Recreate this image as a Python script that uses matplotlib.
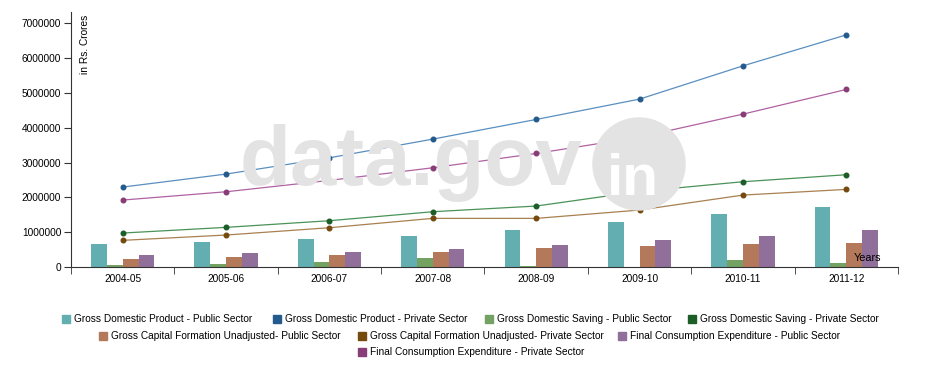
import numpy as np
import matplotlib
matplotlib.use("Agg")
import matplotlib.pyplot as plt
from matplotlib.patches import Rectangle, Ellipse

plt.rcParams['font.family'] = ['Liberation Sans', 'DejaVu Sans']

years = ['2004-05', '2005-06', '2006-07', '2007-08', '2008-09', '2009-10', '2010-11', '2011-12']

# bars (public sector), Rs. crores
gdp_public = [669000, 717000, 803000, 898000, 1061000, 1300000, 1511000, 1721000]
gds_public = [57000, 77000, 153000, 249000, 38000, 0, 210000, 115000]
gcf_public = [230000, 296000, 344000, 440000, 535000, 602000, 650000, 698000]
fce_public = [344000, 392000, 440000, 516000, 621000, 775000, 880000, 1052000]

# lines (private sector)
gdp_private = [2295000, 2668000, 3135000, 3672000, 4236000, 4820000, 5775000, 6665000]
gds_private = [975000, 1138000, 1329000, 1587000, 1750000, 2170000, 2448000, 2649000]
gcf_private = [765000, 918000, 1128000, 1396000, 1396000, 1635000, 2065000, 2228000]
fce_private = [1922000, 2160000, 2487000, 2849000, 3260000, 3729000, 4389000, 5097000]

bar_series = [
    ('Gross Domestic Product - Public Sector', gdp_public, '#62aeb1'),
    ('Gross Domestic Saving - Public Sector', gds_public, '#74a263'),
    ('Gross Capital Formation Unadjusted- Public Sector', gcf_public, '#b4785a'),
    ('Final Consumption Expenditure - Public Sector', fce_public, '#906f9b'),
]
line_series = [
    ('Gross Domestic Product - Private Sector', gdp_private, '#5a8fc0', '#245a8c'),
    ('Gross Domestic Saving - Private Sector', gds_private, '#4a9257', '#1b5e28'),
    ('Gross Capital Formation Unadjusted- Private Sector', gcf_private, '#a98050', '#754a0e'),
    ('Final Consumption Expenditure - Private Sector', fce_private, '#b062a2', '#893d76'),
]

FS = 7.3
fig = plt.figure(figsize=(9.26, 3.78), dpi=100)
ax = fig.add_axes([71 / 926, 1 - 267 / 378, 827 / 926, (267 - 11.7) / 378])

# watermark
fig.text(240 / 926, 1 - 185 / 378, 'data.gov', fontsize=60, fontweight='bold',
         color='#e3e3e3', ha='left', va='baseline', zorder=0)
fig.patches.append(Ellipse((639 / 926, 1 - 164 / 378), 92 / 926, 92 / 378,
                           transform=fig.transFigure, color='#e3e3e3', zorder=0))
fig.text(633 / 926, 1 - 195 / 378, 'in', fontsize=42, fontweight='bold',
         color='white', ha='center', va='baseline', zorder=0)
ax.set_facecolor('none')

x = np.arange(len(years))
bw = 0.153
for i, (name, vals, col) in enumerate(bar_series):
    ax.bar(x + (i - 1.5) * bw, vals, width=bw, color=col, zorder=2)

for name, vals, lc, dc in line_series:
    ax.plot(x, vals, color=lc, lw=0.9, zorder=3)
    ax.plot(x, vals, 'o', color=dc, ms=3.3, zorder=4)

ax.set_xlim(-0.5, len(years) - 0.5)
ax.set_ylim(0, 7.33e6)
ax.set_yticks(np.arange(0, 7000001, 1000000))
ax.set_yticklabels([str(v) for v in range(0, 7000001, 1000000)])
ax.set_xticks(x)
ax.set_xticklabels(years)
ax.set_xticks(np.arange(-0.5, len(years)), minor=True)
ax.tick_params(axis='x', which='major', length=0, pad=5, labelsize=FS)
ax.tick_params(axis='x', which='minor', length=5, color='#333333')
ax.tick_params(axis='y', length=5, labelsize=FS, color='#333333', pad=2)
for s in ['top', 'right']:
    ax.spines[s].set_visible(False)
for s in ['left', 'bottom']:
    ax.spines[s].set_color('#333333')

ax.text(0.011, 0.99, 'in Rs. Crores', transform=ax.transAxes, rotation=90,
        fontsize=FS, ha='left', va='top')
ax.text(0.963, 0.015, 'Years', transform=ax.transAxes, fontsize=FS + 0.5, ha='center', va='bottom')

# legend, laid out in centred rows like the original
legend_items = [
    (bar_series[0][0], bar_series[0][2], 62, 319),
    (line_series[0][0], line_series[0][3], 273, 319),
    (bar_series[1][0], bar_series[1][2], 485, 319),
    (line_series[1][0], line_series[1][3], 688, 319),
    (bar_series[2][0], bar_series[2][2], 99, 336),
    (line_series[2][0], line_series[2][3], 358, 336),
    (bar_series[3][0], bar_series[3][2], 618, 336),
    (line_series[3][0], line_series[3][3], 358, 352),
]
for name, col, px, py in legend_items:
    fig.patches.append(Rectangle((px / 926, 1 - (py + 4) / 378), 8 / 926, 8 / 378,
                                 transform=fig.transFigure, color=col))
    fig.text((px + 12) / 926, 1 - py / 378, name, fontsize=FS, ha='left', va='center')

fig.savefig('out.png', dpi=100)
